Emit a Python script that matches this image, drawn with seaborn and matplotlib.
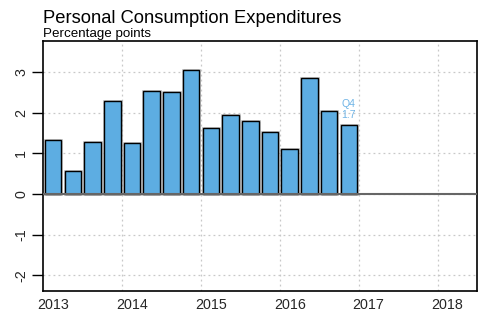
import matplotlib
matplotlib.use("Agg")
import matplotlib.pyplot as plt
import matplotlib.patheffects as pe
import numpy as np
import pandas as pd
import seaborn as sns

# Quarterly contributions to real GDP growth from personal consumption
quarters = ["2013Q1", "2013Q2", "2013Q3", "2013Q4",
            "2014Q1", "2014Q2", "2014Q3", "2014Q4",
            "2015Q1", "2015Q2", "2015Q3", "2015Q4",
            "2016Q1", "2016Q2", "2016Q3", "2016Q4"]
values = [1.32, 0.58, 1.28, 2.29,
          1.26, 2.55, 2.52, 3.06,
          1.63, 1.94, 1.81, 1.53,
          1.12, 2.87, 2.04, 1.70]
year_ticks = [2013, 2014, 2015, 2016, 2017, 2018]
y_ticks = [-2, -1, 0, 1, 2, 3]

# Bars sit at the middle of each quarter on a continuous year axis
pos = [int(q[:4]) + (int(q[-1]) - 1) * 0.25 + 0.125 for q in quarters]
df = pd.DataFrame({"pos": pos, "value": values})

sns.set_style("white")
plt.rcParams["font.family"] = ["Liberation Sans", "DejaVu Sans"]

fig = plt.figure(figsize=(4.99, 3.29), dpi=100)
ax = fig.add_axes([0.0868, 0.1155, 0.8692, 0.7608])

bar_color = "#5DADE2"
sns.barplot(data=df, x="pos", y="value", native_scale=True, width=0.84,
            color=bar_color, saturation=1, edgecolor="black", linewidth=1.0,
            ax=ax, zorder=3)
for p in ax.patches:
    p.set_path_effects([pe.Stroke(linewidth=2.0, foreground="#9a9a9a", alpha=0.6),
                        pe.Normal()])

ax.set_xlim(2013.0, 2018.5)
ax.set_ylim(-2.39, 3.78)

# dotted grid
for yv in y_ticks:
    ax.axhline(yv, color="#c8c8c8", lw=0.9, ls=(0, (1.5, 2.5)), zorder=1)
for xv in year_ticks[1:]:
    ax.axvline(xv, color="#c8c8c8", lw=0.9, ls=(0, (1.5, 2.5)), zorder=1)
ax.axhline(0, color="#666666", lw=1.5, zorder=4)

ax.set_yticks(y_ticks)
ax.set_yticklabels([str(v) for v in y_ticks], rotation=90, va="center", fontsize=10.3)
ax.tick_params(axis="y", direction="out", length=8, width=1, color="black", pad=3, left=True)

ax.set_xticks([y + 0.125 for y in year_ticks])
ax.set_xticklabels([str(y) for y in year_ticks], fontsize=10.3)
ax.tick_params(axis="x", length=0, pad=5)
ax.set_xlabel("")
ax.set_ylabel("")

for s in ax.spines.values():
    s.set_visible(True)
    s.set_color("black")
    s.set_linewidth(1.2)

# last observation label
ax.text(pos[-1], values[-1] + 0.12, f"Q4\n{values[-1]:.1f}", ha="center", va="bottom",
        fontsize=7.5, color="#6FB4E6", linespacing=1.15, zorder=5)

fig.text(0.0868, 0.93, "Personal Consumption Expenditures", fontsize=13.2,
         ha="left", va="baseline", color="black")
fig.text(0.0868, 0.889, "Percentage points", fontsize=9.6,
         ha="left", va="baseline", color="black")

fig.savefig("out.png", dpi=100)
